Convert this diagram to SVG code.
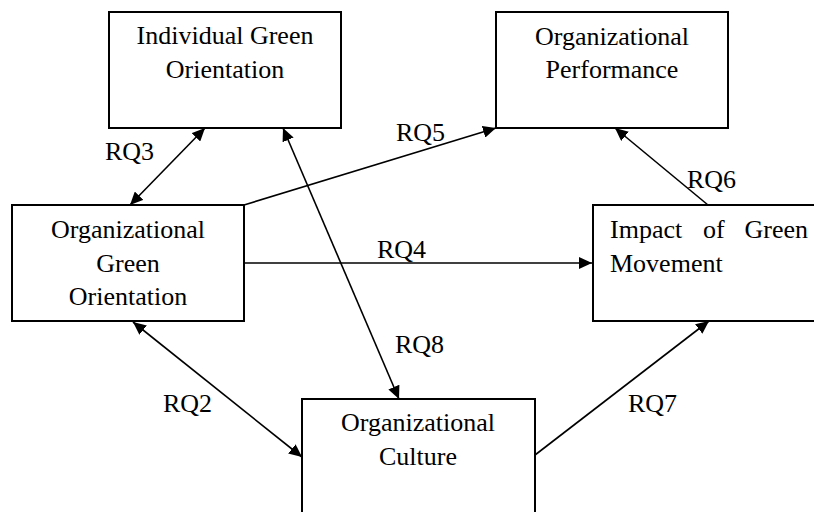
<svg xmlns="http://www.w3.org/2000/svg" width="814" height="512" viewBox="0 0 814 512">
<style>
.box{fill:#fff;stroke:#000;stroke-width:2}
.t{font-family:"Times New Roman",Tinos,"Liberation Serif","Noto Serif","DejaVu Serif",serif;font-size:26px;fill:#000}
.c{text-anchor:middle}
.ln{stroke:#000;stroke-width:1.6;fill:none}
</style>
<defs>
<marker id="ah" markerUnits="userSpaceOnUse" markerWidth="14" markerHeight="12" refX="13" refY="6" orient="auto-start-reverse">
<path d="M0,0 L13,6 L0,12 z" fill="#000"/>
</marker>
</defs>
<rect width="814" height="512" fill="#fff"/>
<g id="connectors">
<line class="ln" x1="205" y1="128" x2="130" y2="205" marker-start="url(#ah)" marker-end="url(#ah)"/>
<line class="ln" x1="283" y1="128" x2="399" y2="399" marker-start="url(#ah)" marker-end="url(#ah)"/>
<line class="ln" x1="244" y1="205" x2="496" y2="128" marker-end="url(#ah)"/>
<line class="ln" x1="244" y1="263" x2="592" y2="263" marker-end="url(#ah)"/>
<line class="ln" x1="708" y1="205" x2="615" y2="128" marker-end="url(#ah)"/>
<line class="ln" x1="133" y1="322" x2="302" y2="457" marker-start="url(#ah)" marker-end="url(#ah)"/>
<line class="ln" x1="535" y1="455" x2="709" y2="321" marker-end="url(#ah)"/>
<text class="t" x="105" y="160">RQ3</text>
<text class="t" x="396" y="141">RQ5</text>
<text class="t" x="687" y="188">RQ6</text>
<text class="t" x="377" y="258">RQ4</text>
<text class="t" x="395" y="353">RQ8</text>
<text class="t" x="163" y="412">RQ2</text>
<text class="t" x="628" y="412">RQ7</text>
</g>
<g id="individual-green-orientation">
<rect class="box" x="109" y="12" width="232" height="116"/>
<text class="t c" x="225" y="44">Individual Green</text>
<text class="t c" x="225" y="78">Orientation</text>
</g>
<g id="organizational-performance">
<rect class="box" x="496" y="12" width="232" height="116"/>
<text class="t c" x="612" y="45">Organizational</text>
<text class="t c" x="612" y="78">Performance</text>
</g>
<g id="organizational-green-orientation">
<rect class="box" x="12" y="205" width="232" height="116"/>
<text class="t c" x="128" y="238">Organizational</text>
<text class="t c" x="128" y="272">Green</text>
<text class="t c" x="128" y="305">Orientation</text>
</g>
<g id="impact-of-green-movement">
<rect class="box" x="593" y="205" width="232" height="116"/>
<text class="t" x="610" y="238">Impact</text>
<text class="t" x="703" y="238">of</text>
<text class="t" x="808" y="238" text-anchor="end">Green</text>
<text class="t" x="610" y="272">Movement</text>
</g>
<g id="organizational-culture">
<rect class="box" x="302" y="399" width="233" height="116"/>
<text class="t c" x="418" y="431">Organizational</text>
<text class="t c" x="418" y="465">Culture</text>
</g>
</svg>
